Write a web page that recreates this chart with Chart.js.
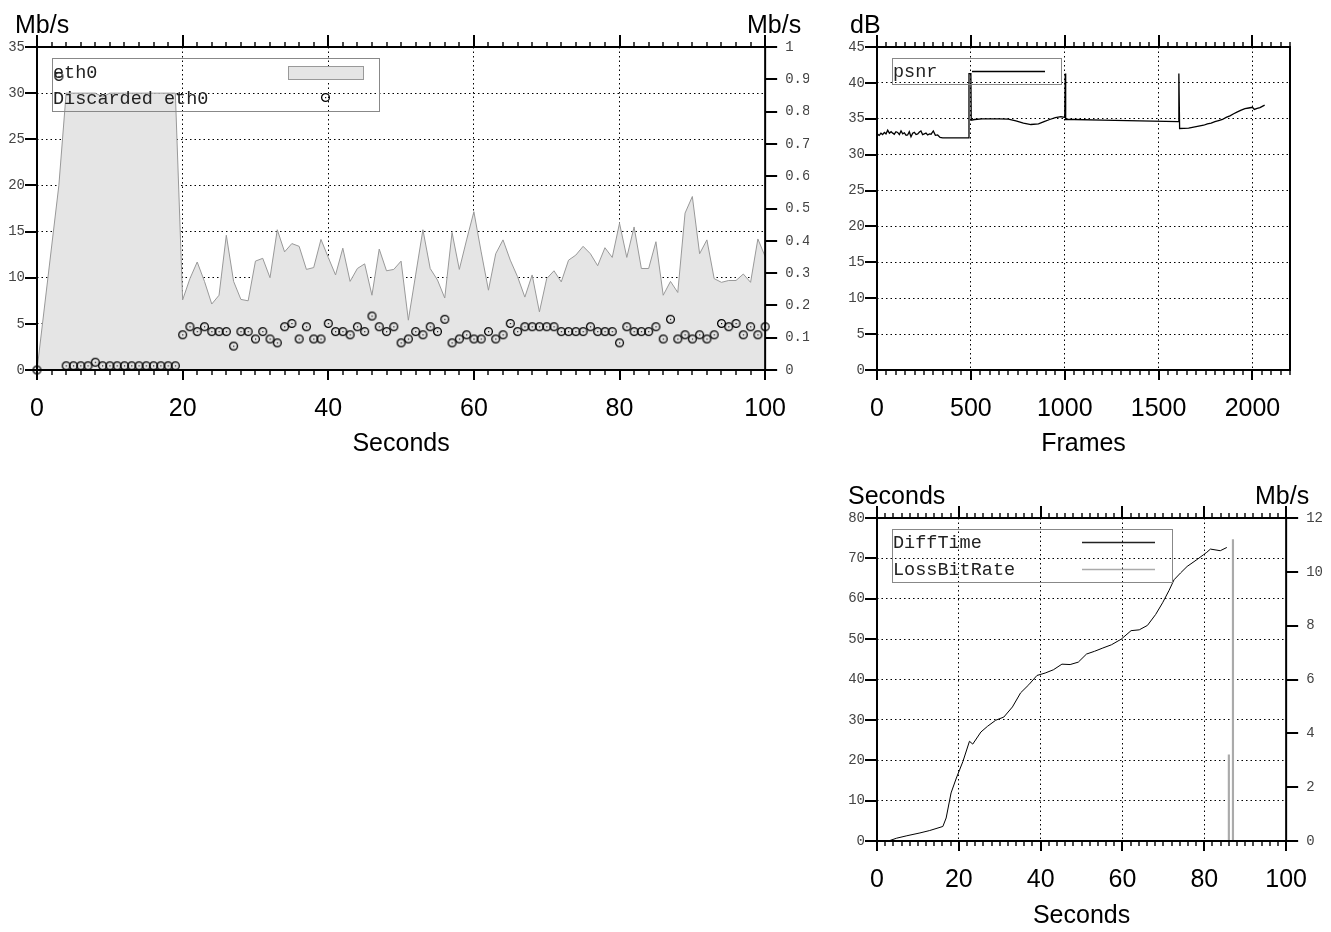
<!DOCTYPE html>
<html>
<head>
<meta charset="utf-8">
<script src="https://cdn.jsdelivr.net/npm/chart.js@4.4.1/dist/chart.umd.min.js"></script>
<style>
  html, body { margin: 0; padding: 0; background: #fff; }
  body { width: 1331px; height: 932px; position: relative; overflow: hidden; }
  canvas { position: absolute; }
  #netChart { left: 0; top: 0; }
  #psnrChart { left: 810px; top: 0; }
  #diffChart { left: 810px; top: 470px; }
</style>
</head>
<body>
<canvas id="netChart" width="810" height="470"></canvas>
<canvas id="psnrChart" width="521" height="470"></canvas>
<canvas id="diffChart" width="521" height="462"></canvas>
<script>
// ---- data ----
const secs = [0, 3, 4, 5, 6, 7, 8, 9, 10, 11, 12, 13, 14, 15, 16, 17, 18, 19,
  20, 21, 22, 23, 24, 25, 26, 27, 28, 29, 30, 31, 32, 33, 34, 35, 36, 37, 38, 39,
  40, 41, 42, 43, 44, 45, 46, 47, 48, 49, 50, 51, 52, 53, 54, 55, 56, 57, 58, 59,
  60, 61, 62, 63, 64, 65, 66, 67, 68, 69, 70, 71, 72, 73, 74, 75, 76, 77, 78, 79,
  80, 81, 82, 83, 84, 85, 86, 87, 88, 89, 90, 91, 92, 93, 94, 95, 96, 97, 98, 99, 100];

// Mb/s, left axis
const eth0 = [0, 20, 30, 30, 30, 30, 30, 29.6, 30, 30, 30, 30, 30, 30, 30, 30, 30, 30,
  7.6, 9.9, 11.7, 9.6, 7.15, 8.1, 14.6, 9.6, 7.65, 7.5,
  11.8, 12.1, 10.0, 15.2, 12.8, 13.7, 13.4, 10.9, 11.1, 14.15,
  12.2, 10.3, 13.2, 9.6, 11.0, 11.5, 8.1, 13.1, 10.75, 10.9,
  11.8, 5.4, 10.3, 15.2, 11.0, 9.75, 7.8, 14.9, 10.9, 14.1,
  17.15, 12.8, 8.65, 12.6, 14.1, 11.9, 10.1, 7.9, 10.3, 6.3,
  9.9, 10.75, 9.55, 11.9, 12.45, 13.4, 12.6, 11.3, 13.25, 12.2,
  15.9, 12.2, 15.5, 11.0, 11.0, 13.9, 8.1, 9.6, 8.4, 17.0,
  18.8, 12.6, 14.1, 9.9, 9.5, 9.7, 9.7, 10.4, 9.5, 14.2, 12.3];

// Mb/s, right axis
const discarded = [0, 0.909, 0.013, 0.013, 0.013, 0.013, 0.024, 0.013, 0.013, 0.013, 0.013,
  0.013, 0.013, 0.013, 0.013, 0.013, 0.013, 0.013,
  0.109, 0.134, 0.119, 0.134, 0.119, 0.119, 0.119, 0.074, 0.119, 0.119,
  0.096, 0.119, 0.096, 0.084, 0.134, 0.144, 0.096, 0.134, 0.096, 0.096,
  0.144, 0.119, 0.119, 0.109, 0.134, 0.119, 0.167, 0.134, 0.119, 0.134,
  0.084, 0.096, 0.119, 0.109, 0.134, 0.119, 0.157, 0.084, 0.096, 0.109,
  0.096, 0.096, 0.119, 0.096, 0.109, 0.144, 0.119, 0.134, 0.134, 0.134,
  0.134, 0.134, 0.119, 0.119, 0.119, 0.119, 0.134, 0.119, 0.119, 0.119,
  0.084, 0.134, 0.119, 0.119, 0.119, 0.134, 0.096, 0.157, 0.096, 0.109,
  0.096, 0.109, 0.096, 0.109, 0.144, 0.134, 0.144, 0.109, 0.134, 0.109, 0.134];

const frames = [0, 3, 12, 21, 30, 39, 48, 57, 66, 75, 84, 92, 101, 110, 119, 128, 137, 146, 155,
  163, 172, 181, 190, 199, 208, 217, 226, 234, 243, 252, 261, 270, 279,
  288, 300, 311, 323, 336, 350, 400, 450, 488, 490, 500, 502, 520, 560, 600, 650, 700,
  740, 780, 820, 860, 890, 920, 950, 980, 1000, 1003, 1005, 1050, 1200, 1400, 1606, 1608,
  1612, 1660, 1700, 1740, 1760, 1780, 1800, 1820, 1840, 1860, 1880, 1900, 1920, 1940, 1960,
  1980, 2000, 2010, 2025, 2040, 2065];
const psnr = [32.7, 32.85, 32.7, 33.0, 32.8, 33.1, 32.9, 33.4, 33.0, 33.2, 33.0, 32.85, 33.2,
  33.1, 32.8, 33.3, 32.9, 33.05, 32.7, 32.75, 33.2, 32.5, 33.0, 33.1, 32.8, 32.9, 33.15,
  33.3, 32.8, 32.9, 33.0, 32.75, 32.9, 32.85, 33.3, 32.7, 32.75, 32.4, 32.35, 32.35, 32.35,
  32.35, 41.3, 41.3, 34.8, 34.9, 35.0, 35.0, 35.0, 34.95, 34.7, 34.4, 34.2, 34.3, 34.6,
  34.9, 35.15, 35.3, 35.2, 41.3, 34.9, 34.9, 34.8, 34.7, 34.6, 41.3, 33.65, 33.7, 33.9,
  34.1, 34.3, 34.4, 34.6, 34.75, 34.9, 35.2, 35.4, 35.7, 35.95, 36.2, 36.4, 36.5, 36.6,
  36.3, 36.45, 36.55, 36.9];

const diffSec = [2.8, 4.8, 7.3, 10.5, 12.9, 16.1, 16.9, 18.1, 19.4, 21.0, 22.6, 23.4, 25.4, 27.0,
  29.0, 31.0, 33.1, 35.1, 37.1, 39.1, 41.1, 43.1, 45.2, 47.2, 49.2, 51.2, 53.2, 55.2, 57.3,
  59.7, 62.1, 64.1, 66.1, 68.1, 69.8, 71.4, 72.6, 74.2, 75.8, 78.2, 79.8, 80.6, 81.5, 83.9, 85.5];
const diffTime = [0, 0.7, 1.3, 2.0, 2.6, 3.6, 5.7, 11.9, 15.6, 19.7, 24.7, 24.0, 27.0, 28.4,
  29.9, 30.7, 33.2, 36.7, 38.7, 41.0, 41.6, 42.4, 43.8, 43.7, 44.3, 46.3, 47.0, 47.8, 48.6,
  50.0, 52.1, 52.3, 53.4, 56.1, 59.0, 62.1, 64.7, 66.4, 68.0, 69.7, 70.9, 71.5, 72.3, 71.9, 72.7];

const lossSec = [86, 87];
const lossRate = [3.2, 11.2];

// tick labels
const secTicks = [0, 20, 40, 60, 80, 100];
const mbTicks = [0, 5, 10, 15, 20, 25, 30, 35];
const rateTicks = [0, 0.1, 0.2, 0.3, 0.4, 0.5, 0.6, 0.7, 0.8, 0.9, 1];
const frameTicks = [0, 500, 1000, 1500, 2000];
const dbTicks = [0, 5, 10, 15, 20, 25, 30, 35, 40, 45];
const diffTicks = [0, 10, 20, 30, 40, 50, 60, 70, 80];
const lossTicks = [0, 2, 4, 6, 8, 10, 12];

// ---- helpers ----
const monoTick = { family: 'Liberation Mono', size: 14 };
const sansBig = { family: 'Liberation Sans', size: 25 };
const legendFont = '18.5px "Liberation Mono"';

function pts(xs, ys) {
    return xs.map((x, i) => ({ x: x, y: ys[i] }));
}

// circle with a dot, like gnuplot's open point
function ringPoint() {
    const c = document.createElement('canvas');
    c.width = 13; c.height = 13;
    const g = c.getContext('2d');
    g.strokeStyle = '#000';
    g.lineWidth = 1.3;
    g.beginPath();
    g.arc(6.5, 6.5, 3.9, 0, Math.PI * 2);
    g.stroke();
    g.fillStyle = '#111';
    g.fillRect(6, 6, 1.2, 1.2);
    return c;
}
const ring = ringPoint();

const useTicks = vals => s => { s.ticks = vals.map(v => ({ value: v })); };
const fixWidth = w => s => { s.width = w; };
const fixHeight = h => s => { s.height = h; };
const gridColor = (lo, hi) => c => (c.tick && (c.tick.value === lo || c.tick.value === hi)) ? 'rgba(0,0,0,0)' : '#000';
const dots = [1.5, 3];

function xScale(min, max, ticks, height, title, titlePad) {
    return {
        type: 'linear', min: min, max: max, offset: false,
        afterBuildTicks: useTicks(ticks),
        afterFit: fixHeight(height),
        grid: { color: gridColor(min, max), lineWidth: 1, drawTicks: false, offset: false },
        border: { display: false, dash: dots },
        ticks: { font: sansBig, color: '#000', padding: 24, maxRotation: 0, autoSkip: false, callback: v => String(v) },
        title: { display: true, text: title, font: sansBig, color: '#000', padding: { top: 0, bottom: titlePad } }
    };
}

function yScale(min, max, ticks, width) {
    return {
        type: 'linear', position: 'left', min: min, max: max,
        afterBuildTicks: useTicks(ticks),
        afterFit: fixWidth(width),
        grid: { color: gridColor(min, max), lineWidth: 1, drawTicks: false },
        border: { display: false, dash: dots },
        ticks: { font: monoTick, color: '#444', padding: 12, callback: v => String(v) }
    };
}

function y2Scale(min, max, ticks, width) {
    return {
        type: 'linear', position: 'right', min: min, max: max,
        afterBuildTicks: useTicks(ticks),
        afterFit: fixWidth(width),
        grid: { drawOnChartArea: false, drawTicks: false },
        border: { display: false },
        ticks: { font: monoTick, color: '#444', padding: 20, callback: v => String(v) }
    };
}

// frame, outside ticks, unit labels and the boxed key
const gnuplotLook = {
    id: 'gnuplotLook',
    afterDatasetsDraw(chart, args, o) {
        const { ctx, chartArea: a, scales } = chart;
        const x = scales.x;
        ctx.save();
        ctx.strokeStyle = '#000';

        ctx.lineWidth = 1.4;
        ctx.beginPath();
        for (let v = x.min; v <= x.max + 1e-6; v += o.xMinor) {
            const px = Math.round(x.getPixelForValue(v));
            ctx.moveTo(px, a.top - 5); ctx.lineTo(px, a.top);
            ctx.moveTo(px, a.bottom); ctx.lineTo(px, a.bottom + 5);
        }
        ctx.stroke();

        ctx.lineWidth = 2;
        ctx.beginPath();
        x.ticks.forEach(t => {
            const px = Math.round(x.getPixelForValue(t.value));
            ctx.moveTo(px, a.top - 12); ctx.lineTo(px, a.top);
            ctx.moveTo(px, a.bottom); ctx.lineTo(px, a.bottom + 10);
        });
        scales.y.ticks.forEach(t => {
            const py = Math.round(scales.y.getPixelForValue(t.value));
            ctx.moveTo(a.left - 12, py); ctx.lineTo(a.left, py);
        });
        if (scales.y2) {
            scales.y2.ticks.forEach(t => {
                const py = Math.round(scales.y2.getPixelForValue(t.value));
                ctx.moveTo(a.right, py); ctx.lineTo(a.right + 12, py);
            });
        }
        ctx.stroke();
        ctx.strokeRect(a.left, a.top, a.right - a.left, a.bottom - a.top);

        // unit labels above the axes
        ctx.fillStyle = '#000';
        ctx.font = '25px "Liberation Sans"';
        ctx.textAlign = 'left';
        ctx.textBaseline = 'alphabetic';
        o.units.forEach(u => ctx.fillText(u.text, u.x, u.y));

        // key
        const k = o.key;
        ctx.lineWidth = 1;
        ctx.strokeStyle = '#888';
        ctx.strokeRect(k.box[0] + 0.5, k.box[1] + 0.5, k.box[2], k.box[3]);
        ctx.font = legendFont;
        ctx.textBaseline = 'middle';
        ctx.fillStyle = '#222';
        k.items.forEach(it => {
            ctx.fillText(it.text, k.box[0] + 1, it.y);
            const x0 = k.sample[0], x1 = k.sample[1];
            if (it.kind === 'area') {
                ctx.fillStyle = '#e5e5e5';
                ctx.fillRect(x0, it.y - 7, x1 - x0, 13);
                ctx.strokeStyle = '#999';
                ctx.strokeRect(x0 + 0.5, it.y - 7 + 0.5, x1 - x0, 13);
                ctx.fillStyle = '#222';
            } else if (it.kind === 'ring') {
                ctx.drawImage(ring, (x0 + x1) / 2 - 6.5, it.y - 8);
            } else {
                ctx.strokeStyle = it.color;
                ctx.lineWidth = it.width;
                ctx.beginPath();
                ctx.moveTo(x0, it.y - 0.5); ctx.lineTo(x1, it.y - 0.5);
                ctx.stroke();
                ctx.lineWidth = 1;
            }
        });
        ctx.restore();
    }
};

Chart.defaults.animation = false;
Chart.defaults.plugins.legend.display = false;
Chart.defaults.plugins.tooltip.enabled = false;

// ---- eth0 / discarded ----
new Chart(document.getElementById('netChart'), {
    type: 'line',
    data: {
        datasets: [
            {
                label: 'eth0',
                data: pts(secs, eth0),
                yAxisID: 'y',
                order: 2,
                borderColor: '#999',
                borderWidth: 1,
                backgroundColor: '#e5e5e5',
                fill: 'origin',
                pointRadius: 0,
                tension: 0
            },
            {
                label: 'Discarded eth0',
                data: pts(secs, discarded),
                yAxisID: 'y2',
                order: 1,
                showLine: false,
                pointStyle: ring,
                pointRadius: 5,
                clip: 8
            }
        ]
    },
    options: {
        responsive: false,
        layout: { padding: { top: 47, left: 0, right: 0, bottom: 0 } },
        scales: {
            x: xScale(0, 100, secTicks, 100, 'Seconds', 11),
            y: yScale(0, 35, mbTicks, 37),
            y2: y2Scale(0, 1, rateTicks, 44)
        },
        plugins: {
            gnuplotLook: {
                xMinor: 2,
                units: [{ text: 'Mb/s', x: 15, y: 33 }, { text: 'Mb/s', x: 747, y: 33 }],
                key: {
                    box: [52, 58, 327, 53],
                    sample: [288, 363],
                    items: [
                        { text: 'eth0', y: 73, kind: 'area' },
                        { text: 'Discarded eth0', y: 99, kind: 'ring' }
                    ]
                }
            }
        }
    },
    plugins: [gnuplotLook]
});

// ---- psnr ----
new Chart(document.getElementById('psnrChart'), {
    type: 'line',
    data: {
        datasets: [{
            label: 'psnr',
            data: pts(frames, psnr),
            borderColor: '#000',
            borderWidth: 1.3,
            pointRadius: 0,
            tension: 0
        }]
    },
    options: {
        responsive: false,
        layout: { padding: { top: 47, left: 0, right: 41, bottom: 0 } },
        scales: {
            x: xScale(0, 2200, frameTicks, 100, 'Frames', 11),
            y: yScale(0, 45, dbTicks, 67)
        },
        plugins: {
            gnuplotLook: {
                xMinor: 50,
                units: [{ text: 'dB', x: 40, y: 33 }],
                key: {
                    box: [82, 58, 169, 26],
                    sample: [162, 235],
                    items: [{ text: 'psnr', y: 72, kind: 'line', color: '#000', width: 1.3 }]
                }
            }
        }
    },
    plugins: [gnuplotLook]
});

// ---- DiffTime / LossBitRate ----
new Chart(document.getElementById('diffChart'), {
    type: 'line',
    data: {
        datasets: [
            {
                label: 'DiffTime',
                data: pts(diffSec, diffTime),
                yAxisID: 'y',
                borderColor: '#000',
                borderWidth: 1,
                pointRadius: 0,
                tension: 0
            },
            {
                type: 'bar',
                label: 'LossBitRate',
                data: pts(lossSec, lossRate),
                yAxisID: 'y2',
                backgroundColor: '#aaa',
                barThickness: 1.5
            }
        ]
    },
    options: {
        responsive: false,
        layout: { padding: { top: 48, left: 0, right: 0, bottom: 0 } },
        scales: {
            x: xScale(0, 100, secTicks, 91, 'Seconds', 1),
            y: yScale(0, 80, diffTicks, 67),
            y2: y2Scale(0, 12, lossTicks, 41)
        },
        plugins: {
            gnuplotLook: {
                xMinor: 2,
                units: [{ text: 'Seconds', x: 38, y: 34 }, { text: 'Mb/s', x: 445, y: 34 }],
                key: {
                    box: [82, 59, 280, 53],
                    sample: [272, 345],
                    items: [
                        { text: 'DiffTime', y: 73, kind: 'line', color: '#222', width: 1.3 },
                        { text: 'LossBitRate', y: 100, kind: 'line', color: '#aaa', width: 1.3 }
                    ]
                }
            }
        }
    },
    plugins: [gnuplotLook]
});
</script>
</body>
</html>
